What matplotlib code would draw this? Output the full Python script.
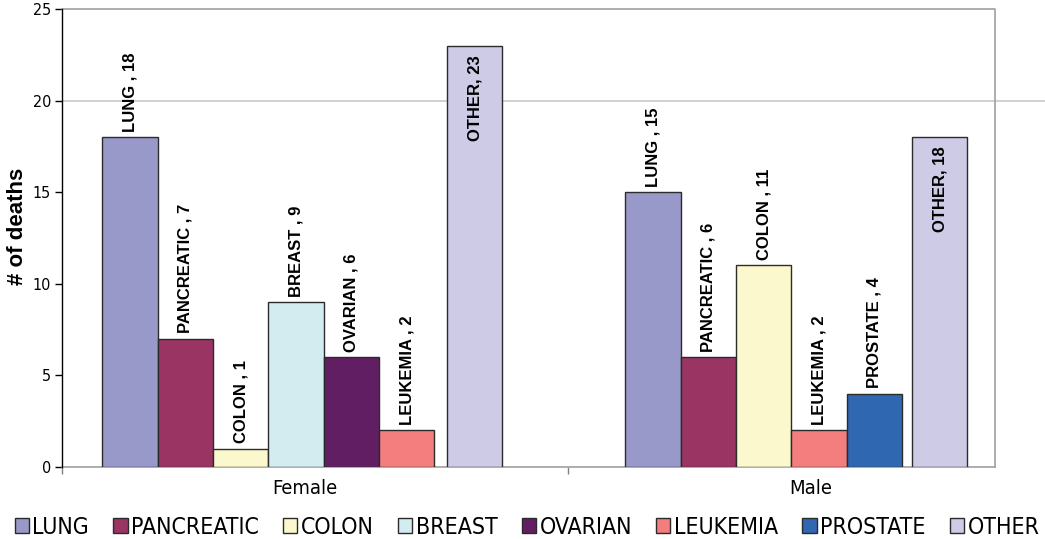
import matplotlib.pyplot as plt
from matplotlib.patches import Patch

# deaths by cancer type and sex
groups = ['Female', 'Male']
female_types = ['LUNG', 'PANCREATIC', 'COLON', 'BREAST', 'OVARIAN', 'LEUKEMIA', 'OTHER']
female_deaths = [18, 7, 1, 9, 6, 2, 23]
male_types = ['LUNG', 'PANCREATIC', 'COLON', 'LEUKEMIA', 'PROSTATE', 'OTHER']
male_deaths = [15, 6, 11, 2, 4, 18]

legend_types = ['LUNG', 'PANCREATIC', 'COLON', 'BREAST', 'OVARIAN', 'LEUKEMIA', 'PROSTATE', 'OTHER']
colors = {
    'LUNG': '#9898c9',
    'PANCREATIC': '#9a3462',
    'COLON': '#faf8cc',
    'BREAST': '#d3ecf0',
    'OVARIAN': '#621e62',
    'LEUKEMIA': '#f47e7e',
    'PROSTATE': '#2f67b1',
    'OTHER': '#cdcbe6',
}

plt.rcParams['font.family'] = ['DejaVu Sans']
plt.rcParams['font.stretch'] = 'condensed'

W, H = 1045, 539
fig = plt.figure(figsize=(W / 100, H / 100), dpi=100)
# plot area runs past the right edge of the figure
ax = fig.add_axes([62 / W, (H - 467) / H, 1012 / W, 458 / H])
ax.set_xlim(0, 2)
ax.set_ylim(0, 25)

bw = 0.1093
starts = [0.080, 1.1136]
other_starts = [0.7609, 1.6798]
lbl_font = dict(fontsize=12, fontweight='bold', family=['Liberation Sans', 'DejaVu Sans'],
                stretch='normal')


def draw_group(types, vals, start, other_start):
    x = start
    for t, v in zip(types, vals):
        left = other_start if t == 'OTHER' else x
        ax.bar(left, v, width=bw, align='edge', color=colors[t],
               edgecolor='#2b2b2b', linewidth=1.0, zorder=3)
        if t == 'OTHER':
            # tall bars get their label inside, under the top edge
            ax.text(left + bw / 2, v - 0.5, f'{t}, {v}', rotation=90,
                    ha='center', va='top', zorder=4, **lbl_font)
        else:
            ax.text(left + bw / 2, v + 0.3, f'{t} , {v}', rotation=90,
                    ha='center', va='bottom', zorder=4, **lbl_font)
            x += bw


draw_group(female_types, female_deaths, starts[0], other_starts[0])
draw_group(male_types, male_deaths, starts[1], other_starts[1])

# gridline and box outline
ax.axhline(20, color='#c8c8c8', linewidth=1.2, zorder=1)
box_r = (995 - 62) / 1012
ax.plot([0, box_r, box_r], [1, 1, 0], transform=ax.transAxes,
        color='#a0a0a0', linewidth=1.2, clip_on=False, zorder=2)
ax.plot([0, box_r], [0, 0], transform=ax.transAxes,
        color='#a0a0a0', linewidth=1.2, clip_on=False, zorder=2)

for s in ['top', 'right', 'bottom']:
    ax.spines[s].set_visible(False)
ax.spines['left'].set_color('black')
ax.spines['left'].set_linewidth(1.0)

ax.set_yticks([0, 5, 10, 15, 20, 25])
ax.tick_params(axis='y', length=5, width=1, labelsize=11.5, pad=3)
ax.set_xticks([0, 1, 2])
ax.set_xticklabels([])
ax.set_xticks([0.48, 1.48], minor=True)
ax.set_xticklabels(groups, minor=True, fontsize=14.5)
ax.tick_params(axis='x', which='major', length=5, width=1, color='#808080')
ax.tick_params(axis='x', which='minor', length=0, pad=9)

ax.set_ylabel('# of deaths', fontsize=16, fontweight='bold',
              family=['Liberation Sans', 'DejaVu Sans'], stretch='normal')
ax.yaxis.set_label_coords(-0.034, 0.526)

handles = [Patch(facecolor=colors[t], edgecolor='#2b2b2b', label=t) for t in legend_types]
fig.legend(handles=handles, loc='center', bbox_to_anchor=(527 / W, 12 / H), ncol=8,
           frameon=False, fontsize=16.6, handlelength=0.62, handleheight=0.62,
           handletextpad=0.15, columnspacing=1.05, borderaxespad=0, borderpad=0)

fig.savefig('out.png', dpi=100)
